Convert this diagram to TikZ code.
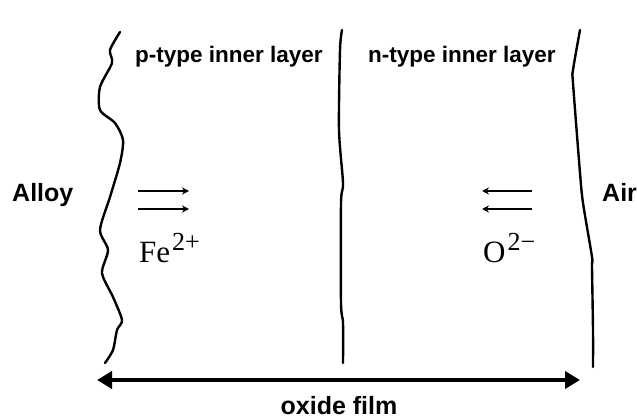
\documentclass[tikz,border=0pt]{standalone}
\usepackage{fontspec}
\setsansfont{Liberation Sans}
\newfontfamily\ionfont{Liberation Serif}
\usetikzlibrary{arrows.meta}
\newcommand{\ionsup}[1]{\hspace{2pt}\raisebox{12pt}{\fontsize{26}{30}\selectfont #1}}
\tikzset{
  boundary/.style={line width=2.4pt, line join=round, line cap=round},
  lbl/.style={font=\sffamily\bfseries\fontsize{22.5}{27}\selectfont, inner sep=0pt, anchor=base west},
  biglbl/.style={font=\sffamily\bfseries\fontsize{25}{30}\selectfont, inner sep=0pt},
  ion/.style={font=\ionfont\fontsize{31}{36}\selectfont, inner sep=0pt, anchor=base west},
  flux/.style={line width=1.8pt, -{Stealth[length=7pt,width=7pt]}},
  film/.style={line width=4.5pt, {Triangle[length=15pt,width=17pt]}-{Triangle[length=15pt,width=17pt]}}
}
\begin{document}
\begin{tikzpicture}[x=1pt,y=-1pt]
\useasboundingbox (0,0) rectangle (637,419);
% alloy / oxide interface (rough)
\draw[boundary] plot[smooth, tension=0.45] coordinates {(120,32) (110,50) (112,63) (100,87) (100,110) (115,123) (123,140) (120,163) (110,197) (100,230) (108,250) (102,273) (113,297) (122,320) (117,330) (113,350) (105,363)};
% p/n interface
\draw[boundary] plot[smooth, tension=0.45] coordinates {(342,30) (340,50) (339,130) (343,183) (341,203) (341,303) (343,323) (343,363)};
% oxide / air interface
\draw[boundary] plot[smooth, tension=0.45] coordinates {(580,30) (573,70) (573,83) (580,173) (583,203) (592,257) (592,267) (593,330) (593,367)};

\node[lbl] (ptype) at (135,63) {p-type inner layer};
\node[lbl] (ntype) at (368,63) {n-type inner layer};
\node[biglbl, anchor=base west] (alloy) at (12,202) {Alloy};
\node[biglbl, anchor=base west] (air) at (602,202) {Air};

\coordinate (fa1s) at (138,191);
\coordinate (fa1e) at (189,191);
\coordinate (fa2s) at (138,209);
\coordinate (fa2e) at (189,209);
\draw[flux] (fa1s) -- (fa1e);
\draw[flux] (fa2s) -- (fa2e);
\node[ion] (fe) at (139,263) {Fe\ionsup{2+}};

\coordinate (oa1s) at (532,191);
\coordinate (oa1e) at (482,191);
\coordinate (oa2s) at (532,209);
\coordinate (oa2e) at (482,209);
\draw[flux] (oa1s) -- (oa1e);
\draw[flux] (oa2s) -- (oa2e);
\node[ion] (ox) at (483,263) {O\ionsup{2−}};

\coordinate (fl) at (97,380);
\coordinate (fr) at (580,380);
\draw[film] (fl) -- (fr);
\node[biglbl, anchor=base] (oxide) at (339,414) {oxide film};
\end{tikzpicture}
\end{document}
